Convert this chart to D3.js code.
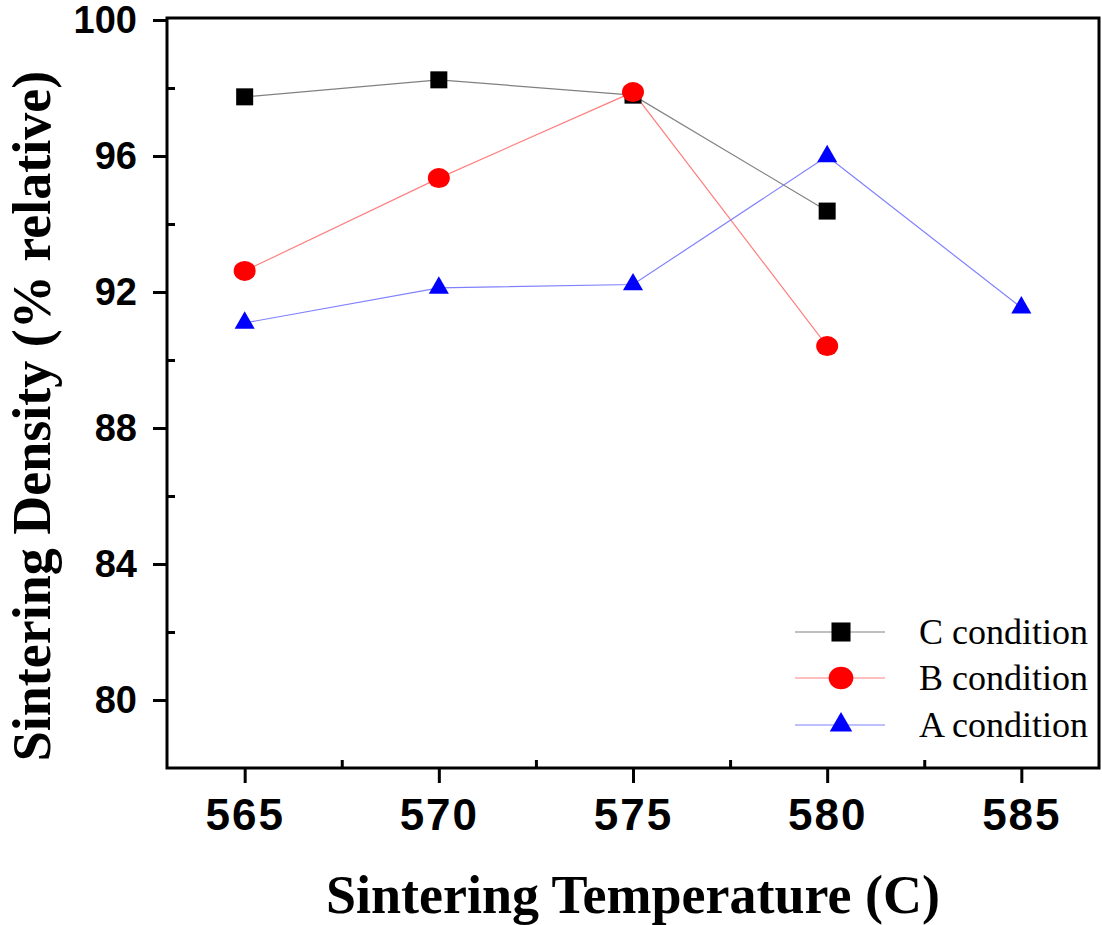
<!DOCTYPE html>
<html><head><meta charset="utf-8">
<script src="https://cdn.jsdelivr.net/npm/d3@7"></script>
<style>body{margin:0;background:#fff}</style>
</head><body>
<svg id="chart" width="1102" height="925"></svg>
<script>
const temps = [565, 570, 575, 580, 585];
const seriesNames = ["C condition", "B condition", "A condition"];
const cTemps = [565, 570, 575, 580];
const cValues = [97.74, 98.24, 97.79, 94.38];
const bTemps = [565, 570, 575, 580];
const bValues = [92.62, 95.35, 97.88, 90.41];
const aTemps = [565, 570, 575, 580, 585];
const aValues = [91.09, 92.12, 92.22, 95.99, 91.54];
const xTicks = [565, 570, 575, 580, 585];
const xMinor = [567.5, 572.5, 577.5, 582.5];
const yTicks = [80, 84, 88, 92, 96, 100];
const yMinor = [82, 86, 90, 94, 98];

const svg = d3.select("#chart");
const L = 167, R = 1099, T = 18, B = 768;
const x = d3.scaleLinear().domain([563, 587]).range([L, R]);
const y = d3.scaleLinear().domain([78, 100]).range([B, B - 22 * 34]);

const series = [
  {name: seriesNames[0], xs: cTemps, ys: cValues, line: "#808080", fill: "#000", shape: "square"},
  {name: seriesNames[1], xs: bTemps, ys: bValues, line: "#ff8080", fill: "#ff0000", shape: "circle"},
  {name: seriesNames[2], xs: aTemps, ys: aValues, line: "#8080ff", fill: "#0000ff", shape: "triangle"}
];

function marker(g, shape, fill, cx, cy, k) {
  k = k || 1;
  if (shape === "square") {
    g.append("rect").attr("x", cx - 8.5 * k).attr("y", cy - 8.5 * k).attr("width", 17 * k).attr("height", 17 * k).attr("fill", fill);
  } else if (shape === "circle") {
    g.append("ellipse").attr("cx", cx).attr("cy", cy).attr("rx", 11 * k).attr("ry", 10 * k).attr("fill", fill);
  } else {
    g.append("path").attr("d", d3.symbol().type(d3.symbolTriangle).size(175 * k * k)()).attr("transform", `translate(${cx},${cy})`).attr("fill", fill);
  }
}

// lines
const lineGen = d3.line().x(d => x(d[0])).y(d => y(d[1]));
series.forEach(s => {
  const pts = s.xs.map((t, i) => [t, s.ys[i]]);
  svg.append("path").attr("d", lineGen(pts)).attr("fill", "none").attr("stroke", s.line).attr("stroke-width", 1.2);
});
series.forEach(s => {
  const g = svg.append("g");
  s.xs.forEach((t, i) => marker(g, s.shape, s.fill, x(t), y(s.ys[i])));
});

// axes
const xAxis = d3.axisBottom(x).tickValues(xTicks).tickSize(15).tickSizeOuter(0).tickPadding(16).tickFormat(d3.format("d"));
const gx = svg.append("g").attr("transform", `translate(0,${B})`).call(xAxis);
gx.select(".domain").remove();
gx.selectAll("line").attr("stroke", "#000").attr("stroke-width", 3);
gx.selectAll("text").attr("font-family", "'Liberation Sans', Arial, sans-serif").attr("font-weight", "bold").attr("font-size", 44).attr("fill", "#000").attr("letter-spacing", 2);
const gxm = svg.append("g").attr("transform", `translate(0,${B})`).call(d3.axisTop(x).tickValues(xMinor).tickSize(8).tickFormat(""));
gxm.select(".domain").remove();
gxm.selectAll("line").attr("stroke", "#000").attr("stroke-width", 3);

const yAxis = d3.axisLeft(y).tickValues(yTicks).tickSize(14).tickSizeOuter(0).tickPadding(16).tickFormat(d3.format("d"));
const gy = svg.append("g").attr("transform", `translate(${L},0)`).call(yAxis);
gy.select(".domain").remove();
gy.selectAll("line").attr("stroke", "#000").attr("stroke-width", 3);
gy.selectAll("text").attr("font-family", "'Liberation Sans', Arial, sans-serif").attr("font-weight", "bold").attr("font-size", 38).attr("fill", "#000");
const gym = svg.append("g").attr("transform", `translate(${L},0)`).call(d3.axisRight(y).tickValues(yMinor).tickSize(8).tickFormat(""));
gym.select(".domain").remove();
gym.selectAll("line").attr("stroke", "#000").attr("stroke-width", 3);

// frame
svg.append("rect").attr("x", L).attr("y", T).attr("width", R - L).attr("height", B - T)
  .attr("fill", "none").attr("stroke", "#000").attr("stroke-width", 3);

// titles
svg.append("text").attr("x", (L + R) / 2).attr("y", 913).attr("text-anchor", "middle")
  .attr("font-family", "'Liberation Serif', 'Times New Roman', serif").attr("font-weight", "bold").attr("font-size", 54)
  .text("Sintering Temperature (C)");
svg.append("text").attr("transform", "translate(50,416) rotate(-90)").attr("text-anchor", "middle")
  .attr("font-family", "'Liberation Serif', 'Times New Roman', serif").attr("font-weight", "bold").attr("font-size", 54)
  .text("Sintering Density (% relative)");

// legend
const legY = [632, 678, 725];
series.forEach((s, i) => {
  const g = svg.append("g");
  g.append("line").attr("x1", 795).attr("x2", 885).attr("y1", legY[i]).attr("y2", legY[i]).attr("stroke", s.line).attr("stroke-width", 1.2);
  marker(g, s.shape, s.fill, 841, legY[i], 1.12);
  g.append("text").attr("x", 919).attr("y", legY[i] + 12).attr("font-family", "'Liberation Serif', 'Times New Roman', serif")
    .attr("font-size", 36).attr("fill", "#000").text(s.name);
});
</script>
</body></html>
